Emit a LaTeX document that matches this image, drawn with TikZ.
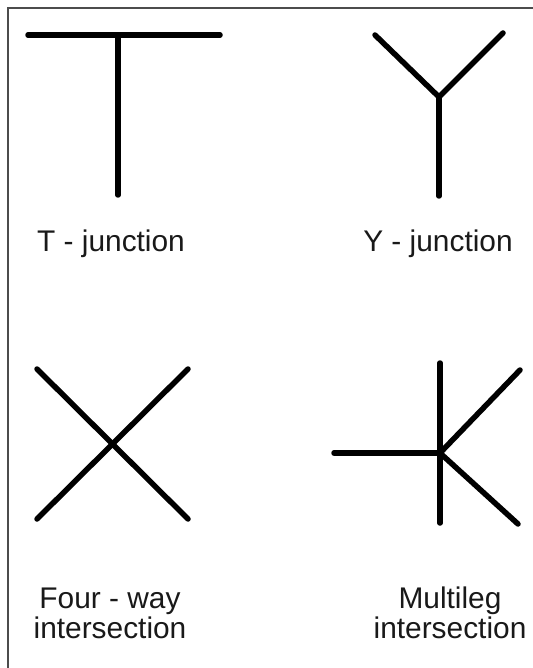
\documentclass[tikz,border=0pt]{standalone}
\usepackage{fontspec}
\setmainfont{Liberation Sans}
\usetikzlibrary{positioning}

\begin{document}
\begin{tikzpicture}[x=0.02cm,y=-0.02cm]
  \tikzstyle{leg}=[line width=0.11cm,line cap=round]
  \tikzstyle{lbl}=[inner sep=0pt,anchor=base,align=center,text=black!90,font=\fontsize{17}{17}\selectfont]
  \useasboundingbox (0,0) rectangle (533,668);
  \draw[black!70,line width=0.8pt] (533,8) -- (8,8) -- (8,668);
  % T - junction
  \coordinate (tleft) at (28,35);
  \coordinate (tright) at (220,35);
  \coordinate (tmid) at (118,35);
  \coordinate (tfoot) at (118,195);
  \draw[leg] (tleft) -- (tright);
  \draw[leg] (tmid) -- (tfoot);
  \node[lbl] (tlabel) at (111,252) {T - junction};
  % Y - junction
  \coordinate (yleft) at (375,35);
  \coordinate (yright) at (503,33);
  \coordinate (ymid) at (439,97);
  \coordinate (yfoot) at (439,196);
  \draw[leg] (yleft) -- (ymid) -- (yright);
  \draw[leg] (ymid) -- (yfoot);
  \node[lbl] (ylabel) at (438,252) {Y - junction};
  % four-way intersection
  \coordinate (xnw) at (37,369);
  \coordinate (xne) at (188,369);
  \coordinate (xsw) at (37,519);
  \coordinate (xse) at (188,519);
  \draw[leg] (xnw) -- (xse);
  \draw[leg] (xne) -- (xsw);
  \node[lbl] (xlabel) at (110,638) {Four - way\\intersection};
  % multileg intersection
  \coordinate (mtop) at (440,363);
  \coordinate (mfoot) at (440,523);
  \coordinate (mleft) at (334,453);
  \coordinate (mmid) at (440,453);
  \coordinate (mne) at (520,370);
  \coordinate (mse) at (518,524);
  \draw[leg] (mtop) -- (mfoot);
  \draw[leg] (mleft) -- (mmid);
  \draw[leg] (mne) -- (mmid) -- (mse);
  \node[lbl] (mlabel) at (450,638) {Multileg\\intersection};
\end{tikzpicture}
\end{document}
